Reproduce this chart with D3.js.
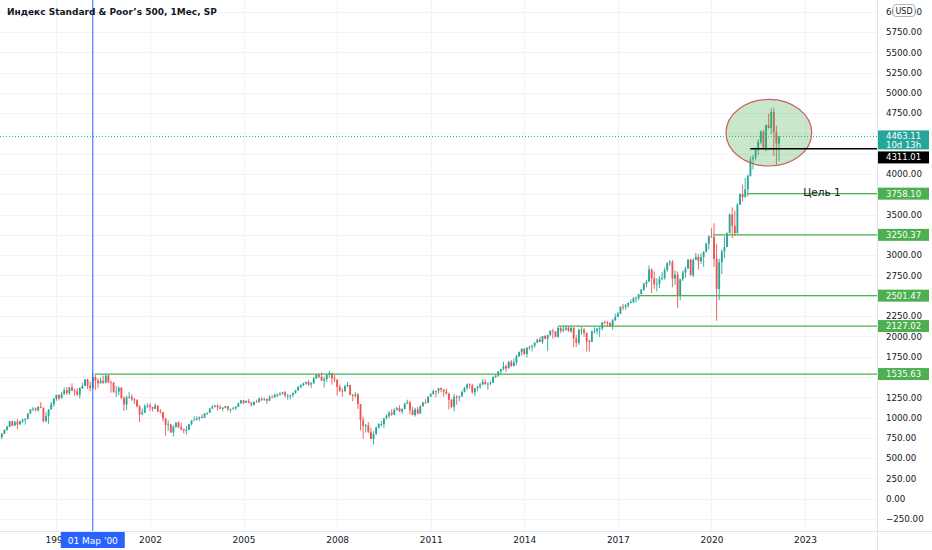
<!DOCTYPE html>
<html>
<head>
<meta charset="utf-8">
<script src="https://cdn.jsdelivr.net/npm/d3@7"></script>
<style>
    html, body { margin: 0; padding: 0; background: #fff; }
    #chart { width: 932px; height: 550px; }
    text { font-family: "DejaVu Sans", sans-serif; }
</style>
</head>
<body>
<div id="chart"></div>
<script>
// monthly candles, first one is Mar 1997 (month index = months since Jan 1997)
const firstMonthIndex = 2;

const opens = [
    790.82, 757.12, 801.34, 848.28, 885.14, 954.31, 899.47, 947.28, 914.62, 955.40,
    970.43, 980.28, 1049.34, 1101.75, 1111.75, 1090.82, 1133.84, 1120.67, 957.28, 1017.01, 1098.67, 1163.63,
    1229.23, 1279.64, 1238.33, 1286.37, 1335.18, 1301.84, 1372.71, 1328.72, 1320.41, 1282.71, 1362.93, 1388.91,
    1469.25, 1394.46, 1366.42, 1498.58, 1452.43, 1420.60, 1454.60, 1430.83, 1517.68, 1436.51, 1429.40, 1314.95,
    1320.28, 1366.01, 1239.94, 1160.33, 1249.46, 1255.82, 1224.42, 1211.23, 1133.58, 1040.94, 1059.78, 1139.45,
    1148.08, 1130.20, 1106.73, 1147.39, 1076.92, 1067.14, 989.82, 911.62, 916.07, 815.28, 885.76, 936.31,
    879.82, 855.70, 841.15, 848.18, 916.92, 963.59, 974.50, 990.31, 1008.01, 995.97, 1050.71, 1058.20,
    1111.92, 1131.13, 1144.94, 1126.21, 1107.30, 1120.68, 1140.84, 1101.72, 1104.24, 1114.58, 1130.20, 1173.82,
    1211.92, 1181.27, 1203.60, 1180.59, 1156.85, 1191.50, 1191.33, 1234.18, 1220.33, 1228.81, 1207.01, 1249.48,
    1248.29, 1280.08, 1280.66, 1294.83, 1310.61, 1270.09, 1270.20, 1276.66, 1303.82, 1335.85, 1377.94, 1400.63,
    1418.30, 1438.24, 1406.82, 1420.86, 1482.37, 1530.62, 1503.35, 1455.27, 1473.99, 1526.75, 1549.38, 1481.14,
    1468.36, 1378.55, 1330.63, 1322.70, 1385.59, 1400.38, 1280.00, 1267.38, 1282.83, 1166.36, 968.75, 896.24,
    903.25, 825.88, 735.09, 797.87, 872.81, 919.14, 919.32, 987.48, 1020.62, 1057.08, 1036.19, 1095.63,
    1115.10, 1073.87, 1104.49, 1169.43, 1186.69, 1089.41, 1030.71, 1101.60, 1049.33, 1141.20, 1183.26, 1180.55,
    1257.64, 1286.12, 1327.22, 1325.83, 1363.61, 1345.20, 1320.64, 1292.28, 1218.89, 1131.42, 1253.30, 1246.96,
    1257.60, 1312.41, 1365.68, 1408.47, 1397.91, 1310.33, 1362.16, 1379.32, 1406.58, 1440.67, 1412.16, 1416.18,
    1426.19, 1498.11, 1514.68, 1569.19, 1597.57, 1630.74, 1606.28, 1685.73, 1632.97, 1681.55, 1756.54, 1805.81,
    1848.36, 1782.59, 1859.45, 1872.34, 1883.95, 1923.57, 1960.23, 1930.67, 2003.37, 1972.29, 2018.05, 2067.56,
    2058.90, 1994.99, 2104.50, 2067.89, 2085.51, 2107.39, 2063.11, 2103.84, 1972.18, 1920.03, 2079.36, 2080.41,
    2043.94, 1940.24, 1932.23, 2059.74, 2065.30, 2096.95, 2098.86, 2173.60, 2170.95, 2168.27, 2126.15, 2198.81,
    2238.83, 2278.87, 2363.64, 2362.72, 2384.20, 2411.80, 2423.41, 2470.30, 2471.65, 2519.36, 2575.26, 2647.58,
    2673.61, 2823.81, 2713.83, 2640.87, 2648.05, 2705.27, 2718.37, 2816.29, 2901.52, 2913.98, 2711.74, 2760.17,
    2506.85, 2704.10, 2784.49, 2834.40, 2945.83, 2752.06, 2941.76, 2980.38, 2926.46, 2976.74, 3037.56, 3140.98,
    3230.78, 3225.52, 2954.22, 2584.59, 2912.43, 3044.31, 3100.29, 3271.12, 3500.31, 3363.00, 3269.96, 3621.63,
    3756.07, 3714.24, 3811.15, 3972.89, 4181.17, 4204.11, 4297.50, 4395.26, 4522.68, 4307.54, 4605.38, 4567.00,
    4766.18, 4515.55, 4373.94
];
const highs = [
    814.90, 804.13, 851.87, 898.70, 957.73, 961.63, 960.46, 983.12, 961.85, 986.25,
    992.65, 1051.66, 1105.65, 1130.52, 1123.02, 1138.49, 1190.58, 1121.63, 1066.11, 1102.65, 1192.97, 1244.93,
    1280.37, 1283.75, 1316.55, 1370.34, 1375.98, 1372.93, 1420.33, 1357.22, 1358.81, 1373.17, 1427.16, 1473.10,
    1478.00, 1444.55, 1552.87, 1527.19, 1481.51, 1488.92, 1517.32, 1525.21, 1530.09, 1454.82, 1438.46, 1389.06,
    1383.37, 1376.38, 1263.47, 1269.30, 1315.93, 1286.62, 1239.78, 1226.27, 1155.40, 1110.61, 1163.38, 1173.62,
    1176.55, 1130.20, 1173.94, 1147.84, 1106.59, 1070.74, 994.46, 965.00, 924.02, 907.44, 941.82, 954.28,
    935.05, 864.64, 895.90, 924.24, 965.38, 1015.33, 1015.41, 1011.01, 1040.29, 1053.79, 1063.65, 1112.56,
    1155.38, 1158.98, 1163.23, 1150.57, 1127.74, 1146.34, 1140.84, 1109.68, 1131.54, 1142.05, 1188.46, 1217.33,
    1217.80, 1212.44, 1229.11, 1191.88, 1199.56, 1219.59, 1245.15, 1245.86, 1243.13, 1233.34, 1270.64, 1275.80,
    1294.90, 1297.57, 1310.88, 1318.16, 1326.70, 1290.68, 1280.42, 1306.74, 1340.28, 1389.45, 1407.89, 1431.81,
    1441.61, 1461.57, 1438.89, 1498.02, 1535.56, 1540.56, 1555.90, 1503.89, 1538.74, 1576.09, 1549.38, 1523.57,
    1471.77, 1406.39, 1359.68, 1404.57, 1440.24, 1404.05, 1292.17, 1313.15, 1303.04, 1167.03, 1007.51, 918.85,
    943.85, 875.01, 832.98, 888.70, 930.17, 956.23, 996.68, 1039.47, 1080.15, 1101.36, 1113.69, 1130.38,
    1150.45, 1112.42, 1180.16, 1219.80, 1205.13, 1131.23, 1120.95, 1129.24, 1148.67, 1196.14, 1227.08, 1262.60,
    1302.67, 1344.07, 1332.28, 1364.56, 1370.58, 1345.20, 1356.48, 1307.38, 1229.29, 1292.66, 1277.55, 1269.37,
    1333.47, 1378.04, 1419.15, 1422.38, 1415.32, 1363.46, 1391.74, 1426.68, 1474.51, 1470.96, 1434.27, 1448.00,
    1509.94, 1530.94, 1570.28, 1597.57, 1687.18, 1654.19, 1698.78, 1709.67, 1729.86, 1775.22, 1813.55, 1849.44,
    1850.84, 1867.92, 1883.97, 1897.28, 1924.03, 1968.17, 1991.39, 2005.04, 2019.26, 2018.19, 2075.76, 2093.55,
    2064.43, 2119.59, 2117.52, 2125.92, 2134.72, 2129.87, 2132.82, 2112.66, 2020.86, 2094.32, 2116.48, 2104.27,
    2043.94, 1962.96, 2072.21, 2111.05, 2103.48, 2120.55, 2177.09, 2193.81, 2187.87, 2169.60, 2214.10, 2277.53,
    2300.99, 2371.54, 2400.98, 2398.16, 2418.71, 2453.82, 2484.04, 2490.87, 2519.44, 2582.98, 2657.74, 2694.97,
    2872.87, 2835.96, 2801.90, 2717.49, 2742.24, 2791.47, 2848.03, 2916.50, 2940.91, 2939.86, 2815.15, 2800.18,
    2708.95, 2813.49, 2860.31, 2949.52, 2954.13, 2964.15, 3027.98, 3013.59, 3021.99, 3050.10, 3154.26, 3247.93,
    3337.77, 3393.52, 3136.72, 2954.86, 3068.67, 3233.13, 3279.99, 3514.77, 3588.11, 3549.85, 3645.99, 3760.20,
    3870.90, 3950.43, 3994.41, 4218.78, 4238.04, 4302.43, 4429.97, 4537.36, 4545.85, 4608.08, 4743.83, 4808.93,
    4818.62, 4595.31, 4465.40
];
const lows = [
    756.13, 733.54, 793.21, 836.36, 882.52, 894.84, 899.47, 855.27, 912.93, 931.62,
    912.83, 980.28, 1046.93, 1076.70, 1074.39, 1074.67, 1114.30, 939.98, 939.98, 923.32, 1098.67, 1132.88,
    1205.46, 1211.89, 1234.27, 1282.56, 1281.41, 1276.70, 1328.72, 1268.10, 1266.97, 1233.70, 1352.29, 1387.37,
    1350.14, 1325.07, 1346.62, 1339.40, 1361.09, 1420.60, 1413.89, 1421.25, 1419.44, 1305.79, 1301.99, 1254.07,
    1274.62, 1228.33, 1081.19, 1091.99, 1232.00, 1203.03, 1165.54, 1124.87, 944.75, 1026.76, 1054.31, 1114.93,
    1081.66, 1074.36, 1106.73, 1063.46, 1048.96, 952.92, 775.68, 833.44, 815.28, 768.63, 872.05, 872.05,
    840.34, 806.29, 788.90, 847.85, 902.83, 963.59, 962.10, 960.84, 990.36, 995.97, 1031.20, 1058.20,
    1105.08, 1124.44, 1087.16, 1107.23, 1076.32, 1113.32, 1078.78, 1060.72, 1099.18, 1090.19, 1127.60, 1173.76,
    1163.75, 1180.95, 1176.92, 1136.15, 1146.18, 1188.30, 1183.55, 1201.07, 1205.35, 1168.20, 1201.07, 1246.59,
    1245.74, 1253.61, 1268.42, 1280.74, 1245.34, 1219.29, 1224.54, 1253.58, 1290.93, 1327.10, 1360.98, 1385.93,
    1403.97, 1389.42, 1363.98, 1416.37, 1476.70, 1484.18, 1454.25, 1370.60, 1439.29, 1489.56, 1406.10, 1435.65,
    1270.05, 1316.75, 1256.98, 1320.00, 1373.07, 1272.00, 1200.44, 1247.45, 1106.42, 839.80, 741.02, 815.69,
    804.30, 734.52, 666.79, 783.32, 866.10, 888.86, 869.32, 978.51, 991.97, 1020.18, 1029.38, 1085.89,
    1071.59, 1044.50, 1101.36, 1169.43, 1040.78, 1028.33, 1010.91, 1039.70, 1049.33, 1131.87, 1173.00, 1180.55,
    1257.62, 1286.12, 1249.05, 1294.70, 1311.80, 1258.07, 1282.86, 1101.54, 1114.22, 1074.77, 1158.66, 1202.37,
    1257.60, 1312.41, 1340.03, 1357.38, 1291.98, 1266.74, 1325.41, 1354.65, 1396.56, 1403.28, 1343.35, 1398.11,
    1426.19, 1485.01, 1501.48, 1536.03, 1581.28, 1560.33, 1604.57, 1627.47, 1632.97, 1646.47, 1746.20, 1767.99,
    1770.45, 1737.92, 1834.44, 1814.36, 1859.79, 1915.98, 1930.67, 1904.78, 1964.04, 1820.66, 2001.01, 1972.56,
    1988.44, 1980.90, 2039.69, 2048.38, 2067.93, 2056.32, 2044.02, 1867.01, 1871.91, 1893.70, 2019.39, 1993.26,
    1812.29, 1810.10, 1932.23, 2033.80, 2025.91, 1991.68, 2074.02, 2147.58, 2119.12, 2114.72, 2083.79, 2187.44,
    2238.83, 2271.65, 2322.25, 2328.95, 2352.72, 2405.70, 2407.70, 2417.35, 2446.55, 2519.36, 2557.45, 2605.52,
    2673.61, 2532.69, 2585.89, 2553.80, 2594.62, 2691.99, 2698.95, 2796.34, 2864.12, 2603.54, 2631.09, 2346.58,
    2443.96, 2681.83, 2722.27, 2834.40, 2750.52, 2728.81, 2941.76, 2822.12, 2891.85, 2855.94, 3037.56, 3070.33,
    3214.64, 2855.84, 2191.86, 2447.49, 2766.64, 2965.66, 3100.29, 3271.12, 3209.45, 3233.94, 3269.96, 3621.63,
    3662.71, 3714.24, 3723.34, 3972.89, 4056.88, 4164.40, 4233.13, 4367.73, 4305.91, 4278.94, 4560.00, 4495.12,
    4222.62, 4114.65, 4157.87
];
const closes = [
    757.12, 801.34, 848.28, 885.14, 954.31, 899.47, 947.28, 914.62, 955.40, 970.43,
    980.28, 1049.34, 1101.75, 1111.75, 1090.82, 1133.84, 1120.67, 957.28, 1017.01, 1098.67, 1163.63, 1229.23,
    1279.64, 1238.33, 1286.37, 1335.18, 1301.84, 1372.71, 1328.72, 1320.41, 1282.71, 1362.93, 1388.91, 1469.25,
    1394.46, 1366.42, 1498.58, 1452.43, 1420.60, 1454.60, 1430.83, 1517.68, 1436.51, 1429.40, 1314.95, 1320.28,
    1366.01, 1239.94, 1160.33, 1249.46, 1255.82, 1224.42, 1211.23, 1133.58, 1040.94, 1059.78, 1139.45, 1148.08,
    1130.20, 1106.73, 1147.39, 1076.92, 1067.14, 989.82, 911.62, 916.07, 815.28, 885.76, 936.31, 879.82,
    855.70, 841.15, 848.18, 916.92, 963.59, 974.50, 990.31, 1008.01, 995.97, 1050.71, 1058.20, 1111.92,
    1131.13, 1144.94, 1126.21, 1107.30, 1120.68, 1140.84, 1101.72, 1104.24, 1114.58, 1130.20, 1173.82, 1211.92,
    1181.27, 1203.60, 1180.59, 1156.85, 1191.50, 1191.33, 1234.18, 1220.33, 1228.81, 1207.01, 1249.48, 1248.29,
    1280.08, 1280.66, 1294.83, 1310.61, 1270.09, 1270.20, 1276.66, 1303.82, 1335.85, 1377.94, 1400.63, 1418.30,
    1438.24, 1406.82, 1420.86, 1482.37, 1530.62, 1503.35, 1455.27, 1473.99, 1526.75, 1549.38, 1481.14, 1468.36,
    1378.55, 1330.63, 1322.70, 1385.59, 1400.38, 1280.00, 1267.38, 1282.83, 1166.36, 968.75, 896.24, 903.25,
    825.88, 735.09, 797.87, 872.81, 919.14, 919.32, 987.48, 1020.62, 1057.08, 1036.19, 1095.63, 1115.10,
    1073.87, 1104.49, 1169.43, 1186.69, 1089.41, 1030.71, 1101.60, 1049.33, 1141.20, 1183.26, 1180.55, 1257.64,
    1286.12, 1327.22, 1325.83, 1363.61, 1345.20, 1320.64, 1292.28, 1218.89, 1131.42, 1253.30, 1246.96, 1257.60,
    1312.41, 1365.68, 1408.47, 1397.91, 1310.33, 1362.16, 1379.32, 1406.58, 1440.67, 1412.16, 1416.18, 1426.19,
    1498.11, 1514.68, 1569.19, 1597.57, 1630.74, 1606.28, 1685.73, 1632.97, 1681.55, 1756.54, 1805.81, 1848.36,
    1782.59, 1859.45, 1872.34, 1883.95, 1923.57, 1960.23, 1930.67, 2003.37, 1972.29, 2018.05, 2067.56, 2058.90,
    1994.99, 2104.50, 2067.89, 2085.51, 2107.39, 2063.11, 2103.84, 1972.18, 1920.03, 2079.36, 2080.41, 2043.94,
    1940.24, 1932.23, 2059.74, 2065.30, 2096.95, 2098.86, 2173.60, 2170.95, 2168.27, 2126.15, 2198.81, 2238.83,
    2278.87, 2363.64, 2362.72, 2384.20, 2411.80, 2423.41, 2470.30, 2471.65, 2519.36, 2575.26, 2647.58, 2673.61,
    2823.81, 2713.83, 2640.87, 2648.05, 2705.27, 2718.37, 2816.29, 2901.52, 2913.98, 2711.74, 2760.17, 2506.85,
    2704.10, 2784.49, 2834.40, 2945.83, 2752.06, 2941.76, 2980.38, 2926.46, 2976.74, 3037.56, 3140.98, 3230.78,
    3225.52, 2954.22, 2584.59, 2912.43, 3044.31, 3100.29, 3271.12, 3500.31, 3363.00, 3269.96, 3621.63, 3756.07,
    3714.24, 3811.15, 3972.89, 4181.17, 4204.11, 4297.50, 4395.26, 4522.68, 4307.54, 4605.38, 4567.00, 4766.18,
    4515.55, 4373.94, 4463.11
];

// axes
const yearTicks = [1999, 2002, 2005, 2008, 2011, 2014, 2017, 2020, 2023];
const priceTicks = [-250, 0, 250, 500, 750, 1000, 1250, 1500, 1750, 2000, 2250, 2500, 2750, 3000,
    3250, 3500, 3750, 4000, 4250, 4500, 4750, 5000, 5250, 5500, 5750, 6000];

// drawings (start given as month index since Jan 1997)
const levelPrices = [1535.63, 2127.02, 2501.47, 3250.37, 3758.10];
const levelStarts = [38.8, 217.0, 248.5, 276.6, 289.7];
const stopPrice = 4311.01;
const stopStart = 290.9;
const targetText = "Цель 1";
const targetMonth = 311.3;
const ellipseCenter = [298.1, 4509];   // [month, price]
const ellipseRadius = [16.5, 410];     // [months, price]
const crossMonth = 38;
const crossLabel = "01 Мар '00";
const countdown = "10d 13h";
const title = "Индекс Standard & Poor’s 500, 1Мес, SP";


class CandleChart {

    constructor(parentElement) {
        this.parentElement = parentElement;
        this.width = 932;
        this.height = 550;
        this.plotW = 877;
        this.plotH = 531;
        this.initVis();
    }

    initVis() {
        let vis = this;

        vis.data = closes.map((c, i) => ({
            m: firstMonthIndex + i, o: opens[i], h: highs[i], l: lows[i], c: c
        }));
        vis.last = vis.data[vis.data.length - 1];

        vis.svg = d3.select("#" + vis.parentElement).append("svg")
            .attr("width", vis.width)
            .attr("height", vis.height);

        vis.svg.append("rect")
            .attr("width", vis.width)
            .attr("height", vis.height)
            .attr("fill", "#fff");

        vis.svg.append("clipPath").attr("id", "plot-clip")
            .append("rect").attr("width", vis.plotW).attr("height", vis.plotH);

        // scales
        vis.xScale = d3.scaleLinear()
            .domain([2.3, 339.7])
            .range([0, vis.plotW]);

        vis.yScale = d3.scaleLinear()
            .domain([-398, 6144])
            .range([vis.plotH, 0]);

        vis.monthW = vis.xScale(1) - vis.xScale(0);

        vis.layoutPriceLabels();
        vis.drawGrid();
        vis.drawAxes();
        vis.drawCandles();
        vis.drawDrawings();
        vis.drawPriceLabels();
        vis.drawCrosshair();

        vis.svg.append("text")
            .attr("x", 7)
            .attr("y", 15)
            .attr("font-size", 9)
            .attr("font-weight", "bold")
            .attr("fill", "#131722")
            .text(title);
    }

    layoutPriceLabels() {
        let vis = this;
        let fmt = d3.format(".2f");

        vis.labels = [{price: vis.last.c, lines: [fmt(vis.last.c), countdown], fill: "#26a69a"},
            {price: stopPrice, lines: [fmt(stopPrice)], fill: "#000"}]
            .concat(levelPrices.map(p => ({price: p, lines: [fmt(p)], fill: "#4caf50"})))
            .sort((a, b) => b.price - a.price);

        // stack labels so they don't overlap
        let prevBottom = -Infinity;
        vis.labels.forEach(d => {
            d.h = d.lines.length === 1 ? 12 : 19;
            d.top = vis.yScale(d.price) - 6;
            if (d.top < prevBottom + 2) d.top = prevBottom + 2;
            prevBottom = d.top + d.h;
        });
    }

    drawGrid() {
        let vis = this;
        let g = vis.svg.append("g").attr("class", "grid");

        g.selectAll(".hgrid")
            .data(priceTicks)
            .join("line")
            .attr("x1", 0)
            .attr("x2", vis.plotW)
            .attr("y1", d => Math.round(vis.yScale(d)) + 0.5)
            .attr("y2", d => Math.round(vis.yScale(d)) + 0.5)
            .attr("stroke", "#f0f3fa");

        g.selectAll(".vgrid")
            .data(yearTicks)
            .join("line")
            .attr("x1", d => Math.round(vis.xScale((d - 1997) * 12)) + 0.5)
            .attr("x2", d => Math.round(vis.xScale((d - 1997) * 12)) + 0.5)
            .attr("y1", 0)
            .attr("y2", vis.plotH)
            .attr("stroke", "#f0f3fa");
    }

    drawAxes() {
        let vis = this;

        // tick labels hidden behind a price label are dropped, like the terminal does
        let covered = v => vis.labels.some(d => vis.yScale(v) > d.top && vis.yScale(v) < d.top + d.h);

        // right price scale
        vis.svg.append("g")
            .attr("transform", `translate(${vis.plotW},0)`)
            .call(d3.axisRight(vis.yScale)
                .tickValues(priceTicks.filter(v => !covered(v)))
                .tickFormat(d3.format(".2f"))
                .tickSize(0)
                .tickPadding(9))
            .call(g => g.select(".domain").remove())
            .call(g => g.selectAll("text")
                .attr("font-size", 8.7)
                .attr("font-family", "DejaVu Sans")
                .attr("fill", "#131722"));

        // bottom time scale
        vis.svg.append("g")
            .attr("transform", `translate(0,${vis.plotH})`)
            .call(d3.axisBottom(vis.xScale)
                .tickValues(yearTicks.map(y => (y - 1997) * 12))
                .tickFormat((d, i) => yearTicks[i])
                .tickSize(0)
                .tickPadding(6))
            .call(g => g.select(".domain").remove())
            .call(g => g.selectAll("text")
                .attr("font-size", 9)
                .attr("font-family", "DejaVu Sans")
                .attr("fill", "#131722"));

        vis.svg.append("line")
            .attr("x1", vis.plotW + 0.5).attr("x2", vis.plotW + 0.5)
            .attr("y1", 0).attr("y2", vis.height)
            .attr("stroke", "#e0e3eb");
        vis.svg.append("line")
            .attr("x1", 0).attr("x2", vis.width)
            .attr("y1", vis.plotH + 0.5).attr("y2", vis.plotH + 0.5)
            .attr("stroke", "#e0e3eb");

        // currency badge
        let usd = vis.svg.append("g");
        usd.append("rect")
            .attr("x", 893).attr("y", 4.5)
            .attr("width", 22).attr("height", 12)
            .attr("rx", 3)
            .attr("fill", "#fff")
            .attr("stroke", "#b2b5be");
        usd.append("text")
            .attr("x", 904).attr("y", 13.5)
            .attr("text-anchor", "middle")
            .attr("font-size", 8)
            .attr("fill", "#131722")
            .text("USD");
    }

    drawCandles() {
        let vis = this;
        let bodyW = vis.monthW * 0.7;
        let up = "#26a69a", down = "#ef5350";

        let g = vis.svg.append("g").attr("clip-path", "url(#plot-clip)");

        g.selectAll(".wick")
            .data(vis.data)
            .join("line")
            .attr("x1", d => vis.xScale(d.m))
            .attr("x2", d => vis.xScale(d.m))
            .attr("y1", d => vis.yScale(d.h))
            .attr("y2", d => vis.yScale(d.l))
            .attr("stroke", d => d.c >= d.o ? up : down)
            .attr("stroke-width", 0.9);

        g.selectAll(".body")
            .data(vis.data)
            .join("rect")
            .attr("x", d => vis.xScale(d.m) - bodyW / 2)
            .attr("width", bodyW)
            .attr("y", d => vis.yScale(Math.max(d.o, d.c)))
            .attr("height", d => Math.max(0.8, Math.abs(vis.yScale(d.o) - vis.yScale(d.c))))
            .attr("fill", d => d.c >= d.o ? up : down);
    }

    drawDrawings() {
        let vis = this;
        let g = vis.svg.append("g").attr("clip-path", "url(#plot-clip)");

        // current price line
        g.append("line")
            .attr("x1", 0).attr("x2", vis.plotW)
            .attr("y1", vis.yScale(vis.last.c)).attr("y2", vis.yScale(vis.last.c))
            .attr("stroke", "#26a69a")
            .attr("stroke-dasharray", "1,2");

        // green levels
        g.selectAll(".level")
            .data(levelPrices)
            .join("line")
            .attr("x1", (d, i) => vis.xScale(levelStarts[i]))
            .attr("x2", vis.plotW)
            .attr("y1", d => vis.yScale(d))
            .attr("y2", d => vis.yScale(d))
            .attr("stroke", "#4caf50")
            .attr("stroke-width", 1.2);

        // ellipse
        g.append("ellipse")
            .attr("cx", vis.xScale(ellipseCenter[0]))
            .attr("cy", vis.yScale(ellipseCenter[1]))
            .attr("rx", vis.xScale(ellipseCenter[0] + ellipseRadius[0]) - vis.xScale(ellipseCenter[0]))
            .attr("ry", vis.yScale(ellipseCenter[1] - ellipseRadius[1]) - vis.yScale(ellipseCenter[1]))
            .attr("fill", "rgba(76,175,80,0.3)")
            .attr("stroke", "rgba(200,70,80,0.85)")
            .attr("stroke-width", 1.2);

        // black stop line
        g.append("line")
            .attr("x1", vis.xScale(stopStart)).attr("x2", vis.plotW)
            .attr("y1", vis.yScale(stopPrice)).attr("y2", vis.yScale(stopPrice))
            .attr("stroke", "#000")
            .attr("stroke-width", 1.5);

        g.append("text")
            .attr("x", vis.xScale(targetMonth))
            .attr("y", vis.yScale(levelPrices[4]) + 2)
            .attr("font-size", 10.5)
            .attr("fill", "#131722")
            .text(targetText);
    }

    drawPriceLabels() {
        let vis = this;

        let g = vis.svg.append("g").selectAll("g")
            .data(vis.labels)
            .join("g")
            .attr("transform", d => `translate(${vis.plotW + 1},${d.top})`);

        g.append("rect")
            .attr("width", 51)
            .attr("height", d => d.h)
            .attr("fill", d => d.fill);

        g.selectAll("text")
            .data(d => d.lines)
            .join("text")
            .attr("x", 8)
            .attr("y", (d, i) => 9 + i * 8.2)
            .attr("font-size", 8.5)
            .attr("fill", "#fff")
            .text(d => d);
    }

    drawCrosshair() {
        let vis = this;
        let x = vis.xScale(crossMonth);

        vis.svg.append("line")
            .attr("x1", x).attr("x2", x)
            .attr("y1", 0).attr("y2", vis.plotH)
            .attr("stroke", "#2962ff")
            .attr("stroke-width", 1);

        vis.svg.append("rect")
            .attr("x", x - 32)
            .attr("y", vis.plotH + 1)
            .attr("width", 64)
            .attr("height", 16)
            .attr("fill", "#2962ff");
        vis.svg.append("text")
            .attr("x", x)
            .attr("y", vis.plotH + 12.5)
            .attr("text-anchor", "middle")
            .attr("font-size", 9)
            .attr("fill", "#fff")
            .text(crossLabel);
    }
}

new CandleChart("chart");
</script>
</body>
</html>
